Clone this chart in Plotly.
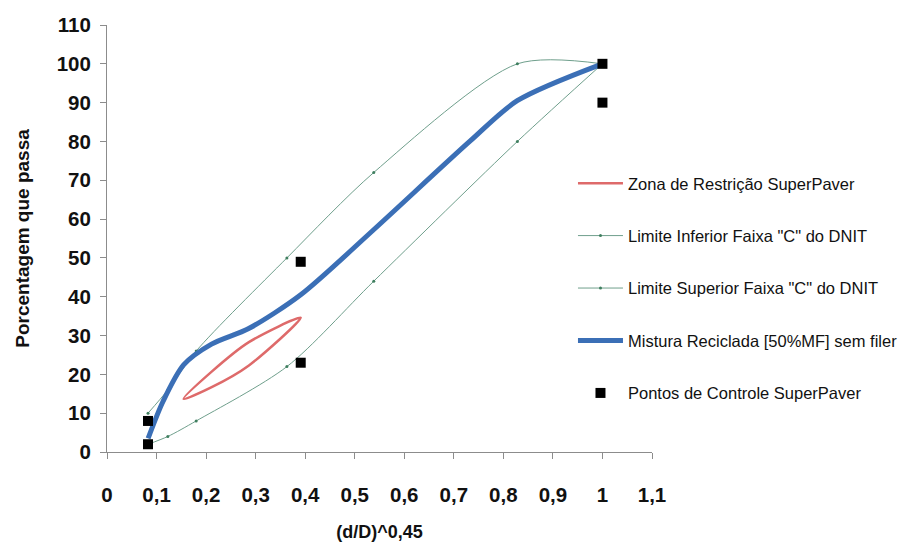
import plotly.graph_objects as go

# Abscissa: (d/D)^0,45 for each sieve, with D = 19 mm
x_dnit = [0.0828, 0.1228, 0.18, 0.3631, 0.5384, 0.8283, 1.0]
lim_inf = [2, 4, 8, 22, 44, 80, 100]
lim_sup = [10, 16, 26, 50, 72, 100, 100]

# Restricted zone (closed loop: upper boundary then lower boundary back)
x_zona = [0.1546, 0.2113, 0.2864, 0.391, 0.2864, 0.2113, 0.1546]
y_zona = [13.7, 20.7, 28.3, 34.6, 22.3, 16.7, 13.7]

# Recycled mix gradation
x_mist = [0.083, 0.113, 0.155, 0.211, 0.286, 0.391, 0.536, 0.732, 0.828, 1.0]
y_mist = [3.5, 13, 22.5, 27.8, 31.8, 40.5, 57, 80, 90.5, 100]

# SuperPave control points
x_ctrl = [0.0828, 0.0828, 0.391, 0.391, 1.0, 1.0]
y_ctrl = [2, 8, 23, 49, 90, 100]

x_ticks = [0, 0.1, 0.2, 0.3, 0.4, 0.5, 0.6, 0.7, 0.8, 0.9, 1.0, 1.1]
x_ticktext = ["0", "0,1", "0,2", "0,3", "0,4", "0,5", "0,6", "0,7", "0,8", "0,9", "1", "1,1"]
y_ticks = list(range(0, 111, 10))

GREEN = "#6f9f8c"
BOLD_FONT = "Liberation Sans, Arial, sans-serif"
TEXT_FONT = "Liberation Sans, Arial, sans-serif"

fig = go.Figure()

fig.add_trace(go.Scatter(
    x=x_zona, y=y_zona, mode="lines", name="Zona de Restrição SuperPaver",
    line=dict(color="#de6a6a", width=2.5, shape="spline", smoothing=0.8),
    legendgroup="g1"))
fig.add_trace(go.Scatter(
    x=x_dnit, y=lim_inf, mode="lines+markers", name='Limite Inferior Faixa "C" do DNIT',
    line=dict(color=GREEN, width=1, shape="spline", smoothing=0.8),
    marker=dict(size=3, color="#3f7f5f"), legendgroup="g2"))
fig.add_trace(go.Scatter(
    x=x_dnit, y=lim_sup, mode="lines+markers", name='Limite Superior Faixa "C" do DNIT',
    line=dict(color=GREEN, width=1, shape="spline", smoothing=0.8),
    marker=dict(size=3, color="#3f7f5f"), legendgroup="g3"))
fig.add_trace(go.Scatter(
    x=x_mist, y=y_mist, mode="lines", name="Mistura Reciclada [50%MF] sem filer",
    line=dict(color="#3b6fb6", width=5, shape="spline", smoothing=0.8),
    legendgroup="g4"))
fig.add_trace(go.Scatter(
    x=x_ctrl, y=y_ctrl, mode="markers", name="Pontos de Controle SuperPaver",
    marker=dict(symbol="square", size=10, color="black"),
    legendgroup="g5"))

fig.update_layout(
    width=923, height=557,
    margin=dict(l=107, r=271, t=25, b=105),
    paper_bgcolor="white", plot_bgcolor="white",
    showlegend=True,
    legend=dict(
        x=0.855, xanchor="left", y=0.67, yanchor="top",
        font=dict(family=TEXT_FONT, size=16.5, color="#111"),
        tracegroupgap=28, itemwidth=45, bgcolor="rgba(0,0,0,0)",
    ),
    xaxis=dict(
        range=[0, 1.1], tickvals=x_ticks, ticktext=x_ticktext,
        showgrid=False, zeroline=False, showline=True, linecolor="#8c8c8c", linewidth=1,
        ticks="outside", ticklen=6, tickcolor="#8c8c8c", ticklabelstandoff=18,
        tickfont=dict(family=BOLD_FONT, size=20.5, color="#111", weight="bold"),
        title=dict(text="<b>(d/D)^0,45</b>", standoff=20,
                   font=dict(family=BOLD_FONT, size=18, color="#111")),
    ),
    yaxis=dict(
        range=[0, 110], tickvals=y_ticks,
        showgrid=False, zeroline=False, showline=True, linecolor="#8c8c8c", linewidth=1,
        ticks="outside", ticklen=6, tickcolor="#8c8c8c", ticklabelstandoff=5,
        tickfont=dict(family=BOLD_FONT, size=20.5, color="#111", weight="bold"),
        title=dict(text="<b>Porcentagem que passa</b>", standoff=22,
                   font=dict(family=BOLD_FONT, size=19, color="#111")),
    ),
)

fig.write_html("out.html")
